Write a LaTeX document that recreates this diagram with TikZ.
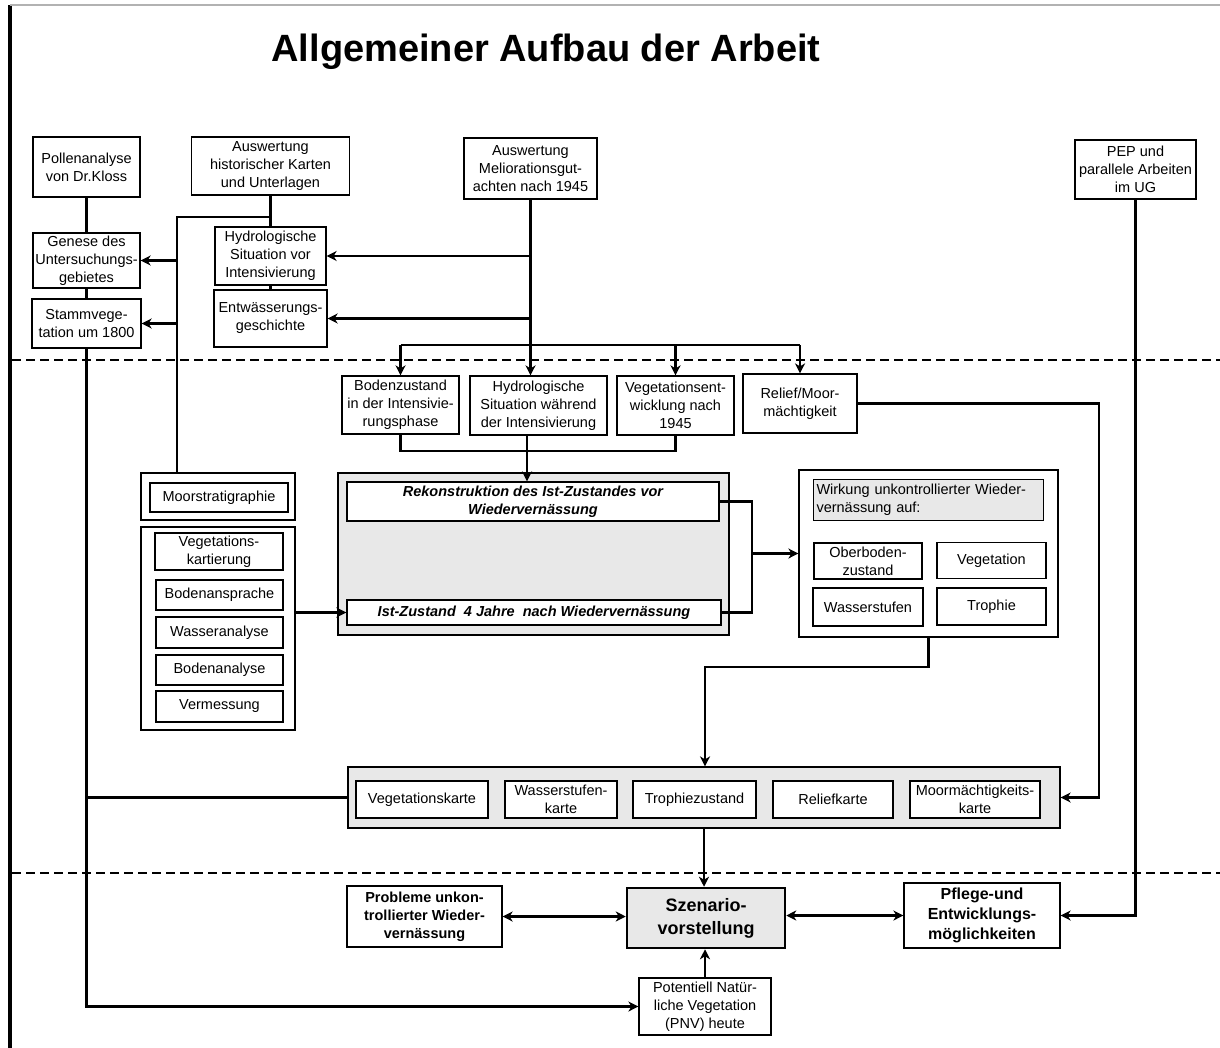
\documentclass[tikz,border=0pt]{standalone}
\usepackage{fontspec}
\setmainfont{Liberation Sans}
\usepackage{tikz}
\usetikzlibrary{arrows.meta, positioning}

\newcommand\diagfont{\fontsize{14.5}{18}\selectfont}
\newcommand\headfont{\fontsize{38}{44}\selectfont\bfseries}
\newcommand\scenfont{\fontsize{18}{23}\selectfont\bfseries}
\newcommand\pflfont{\fontsize{16}{20}\selectfont\bfseries}

\begin{document}
\begin{tikzpicture}[
  x=1pt, y=-1pt,
  box/.style={draw, line width=1.2pt, fill=white, align=center, inner sep=1pt, font=\diagfont},
  graybox/.style={box, fill=gray!18},
  frame/.style={draw, line width=1.2pt, fill=white},
  sz/.style 2 args={minimum width=#1pt, minimum height=#2pt},
  conn/.style={line width=2.4pt},
  arrow/.style={conn, -{Stealth[length=10pt, width=10pt, inset=3pt]}},
  dblarrow/.style={conn, {Stealth[length=10pt, width=10pt, inset=3pt]}-{Stealth[length=10pt, width=10pt, inset=3pt]}},
  sep/.style={line width=1.3pt, dash pattern=on 9pt off 5pt}
]
\useasboundingbox (0,0) rectangle (1220,1048);

% frame and title
\draw[line width=3.5pt] (10,1048) -- (10,5);
\draw[line width=2pt, gray!60] (10,5) -- (1220,5);
\node[font=\headfont] (title) at (546,52) {Allgemeiner Aufbau der Arbeit};

% phase separators
\draw[sep] (12,360) -- (1220,360);
\draw[sep] (12,873) -- (1220,873);

% sources
\node[box, sz={107}{60}] (pollen) at (86.5,167) {Pollenanalyse\\von Dr.Kloss};
\node[box, sz={158}{58}] (hist) at (270.5,166) {Auswertung\\historischer Karten\\und Unterlagen};
\node[box, sz={133}{61}] (melio) at (530.5,168.5) {Auswertung\\Meliorationsgut-\\achten nach 1945};
\node[box, sz={121}{59}] (pep) at (1135.5,169.5) {PEP und\\parallele Arbeiten\\im UG};

% historical part
\node[box, sz={107}{55}] (genese) at (86.5,260.5) {Genese des\\Untersuchungs-\\gebietes};
\node[box, sz={109}{49}] (stamm) at (86.5,323.5) {Stammvege-\\tation um 1800};
\node[box, sz={111}{58}] (hydvor) at (270.5,256) {Hydrologische\\Situation vor\\Intensivierung};
\node[box, sz={113}{57}] (entw) at (270.5,318.5) {Entwässerungs-\\geschichte};

% intensification phase
\node[box, sz={117}{58}] (boden) at (400.5,405) {Bodenzustand\\in der Intensivie-\\rungsphase};
\node[box, sz={137}{59}] (hydwae) at (538.5,405.5) {Hydrologische\\Situation während\\der Intensivierung};
\node[box, sz={117}{59}] (vegent) at (675.5,405.5) {Vegetationsent-\\wicklung nach\\1945};
\node[box, sz={114}{59}] (relief) at (800,403.5) {Relief/Moor-\\mächtigkeit};

% field work
\node[frame, sz={154}{47}] (moorout) at (218,496.5) {};
\node[box, sz={138}{29}] (moorstrat) at (219,497.5) {Moorstratigraphie};
\node[frame, sz={154}{203}] (listout) at (218,628.5) {};
\node[box, sz={128}{37}] (vegkart) at (219,551.5) {Vegetations-\\kartierung};
\node[box, sz={127}{30}] (bodenan) at (219.5,595) {Bodenansprache};
\node[box, sz={127}{31}] (wasseran) at (219.5,632.5) {Wasseranalyse};
\node[box, sz={127}{30}] (bodenana) at (219.5,670) {Bodenanalyse};
\node[box, sz={127}{31}] (verm) at (219.5,706.5) {Vermessung};

% state reconstruction
\node[graybox, sz={391}{162}] (bigbox) at (533.5,554) {};
\node[box, sz={372}{39}, font=\diagfont\bfseries\itshape] (rekon) at (533,501.5) {Rekonstruktion des Ist-Zustandes vor\\Wiedervernässung};
\node[box, sz={374}{25}, font=\diagfont\bfseries\itshape] (ist) at (534,612.5) {Ist-Zustand\ \ 4 Jahre\ \ nach Wiedervernässung};

% effects
\node[frame, sz={259}{167}] (wirkout) at (928.5,553.5) {};
\node[graybox, text width=224pt, align=left, inner sep=3pt, minimum height=41pt] (wirkhead) at (928.5,500) {Wirkung unkontrollierter Wieder-\\vernässung auf:};
\node[box, sz={108}{36}, inner sep=0pt] (oberb) at (868,561) {Oberboden-\\zustand};
\node[box, sz={109}{36}] (veget) at (991.5,560.5) {Vegetation};
\node[box, sz={110}{38}] (wstufen) at (868,607) {Wasserstufen};
\node[box, sz={109}{37}] (troph) at (991.5,606.5) {Trophie};

% maps
\node[graybox, sz={712}{61}] (kartout) at (704,797.5) {};
\node[box, sz={132}{37}] (vkarte) at (422,799.5) {Vegetationskarte};
\node[box, sz={112}{37}, inner sep=0pt] (wkarte) at (561,799.5) {Wasserstufen-\\karte};
\node[box, sz={123}{37}] (tzust) at (694.5,799.5) {Trophiezustand};
\node[box, sz={120}{37}] (rkarte) at (833,799.5) {Reliefkarte};
\node[box, sz={130}{37}, inner sep=0pt] (mkarte) at (975,799.5) {Moormächtigkeits-\\karte};

% scenario
\node[box, sz={155}{61}, font=\diagfont\bfseries] (probleme) at (424.5,916.5) {Probleme unkon-\\trollierter Wieder-\\vernässung};
\node[graybox, sz={158}{60}, line width=2.5pt, font=\scenfont] (szen) at (706,918) {Szenario-\\vorstellung};
\node[box, sz={156}{65}, font=\pflfont] (pflege) at (982,915.5) {Pflege-und\\Entwicklungs-\\möglichkeiten};
\node[box, sz={132}{57}] (pnv) at (705,1006.5) {Potentiell Natür-\\liche Vegetation\\(PNV) heute};

% helper points
\coordinate (hjoin) at (270.5,217);
\coordinate (lcol) at (177,217);
\coordinate (mjoin) at (530.5,345);
\coordinate (rjoin) at (527,451);
\coordinate (bjoin) at (752,0);
\coordinate (kjoin) at (705,667);
\coordinate (rcol) at (1099,0);

% connectors, left column
\draw[conn] (pollen) -- (genese);
\draw[conn] (genese) -- (stamm);
\draw[arrow] (stamm.south) |- (pnv.west);
\draw[conn] (stamm.south |- kartout.west) -- (kartout.west);
\draw[conn] (hist) -- (hydvor);
\draw[conn] (hydvor) -- (entw);
\draw[conn] (hjoin) -- (lcol) -- (lcol |- moorout.north);
\draw[arrow] (lcol |- genese.east) -- (genese.east);
\draw[arrow] (lcol |- stamm.east) -- (stamm.east);

% connectors, melioration
\draw[conn] (melio.south) -- (mjoin);
\draw[arrow] (melio.south |- hydvor.east) -- (hydvor.east);
\draw[arrow] (melio.south |- entw.east) -- (entw.east);
\draw[conn] (boden.north |- mjoin) -- (relief.north |- mjoin);
\draw[arrow] (boden.north |- mjoin) -- (boden.north);
\draw[arrow] (mjoin) -- (mjoin |- hydwae.north);
\draw[arrow] (vegent.north |- mjoin) -- (vegent.north);
\draw[arrow] (relief.north |- mjoin) -- (relief.north);

% connectors, middle
\draw[conn] (boden.south) |- (rjoin) -- (vegent.south |- rjoin) -- (vegent.south);
\draw[conn] (rjoin |- hydwae.south) -- (rjoin);
\draw[arrow] (rjoin) -- (rjoin |- rekon.north);
\draw[arrow] (listout.east |- ist.west) -- (ist.west);
\draw[conn] (rekon.east) -| (bjoin |- ist.east) -- (ist.east);
\draw[arrow] (bjoin |- wirkout.west) -- (wirkout.west);
\draw[arrow] (wirkout.south) |- (kjoin) -- (kjoin |- kartout.north);
\draw[arrow] (relief.east) -| (rcol |- kartout.east) -- (kartout.east);
\draw[arrow] (pep.south) |- (pflege.east);

% connectors, scenario
\draw[arrow] (kartout.south) -- (kartout.south |- szen.north);
\draw[dblarrow] (probleme.east) -- (probleme.east -| szen.west);
\draw[dblarrow] (szen.east |- pflege.west) -- (pflege.west);
\draw[arrow] (pnv.north) -- (pnv.north |- szen.south);
\end{tikzpicture}
\end{document}
